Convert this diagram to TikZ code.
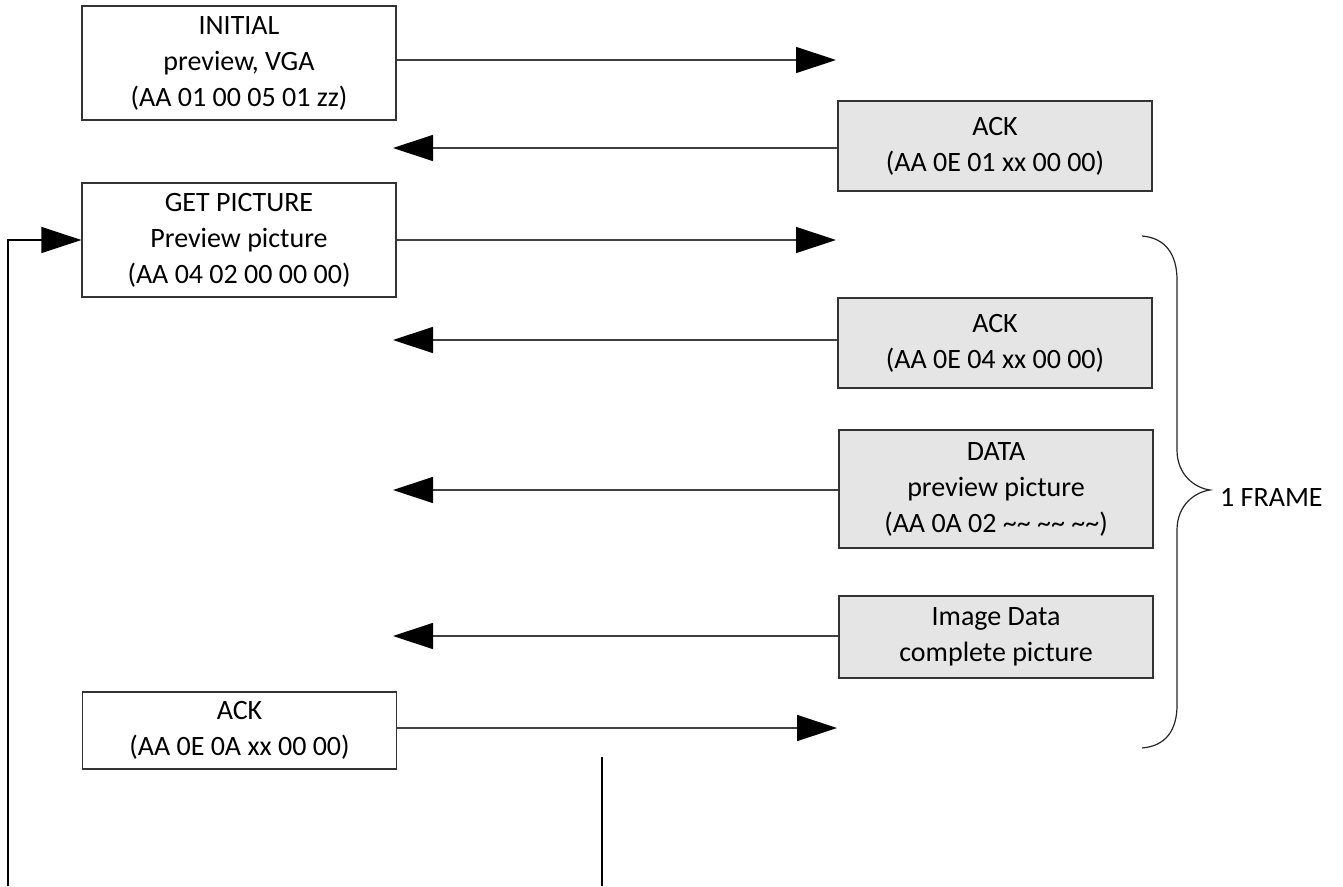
\documentclass[tikz,border=0pt]{standalone}
\usepackage{fontspec}
\setmainfont{Carlito}
\usetikzlibrary{arrows.meta}
\newcommand{\tld}{\char"7E\char"7E}
\begin{document}
\begin{tikzpicture}[x=1pt,y=-1pt,
  box/.style={draw=black!80, line width=1.2pt, fill=white, minimum width=314pt, inner sep=0pt, align=center, font=\fontsize{28}{36}\selectfont},
  rbox/.style={box, fill=black!10},
  msg/.style={draw=black!75, line width=1.3pt, -{Triangle[length=40pt,width=26pt,color=black]}},
  plainline/.style={draw=black, line width=1.4pt},
  bracestyle/.style={draw=black!85, line width=1.2pt},
  lbl/.style={font=\fontsize{28}{36}\selectfont, inner sep=0pt, anchor=west}]
\useasboundingbox (0,0) rectangle (1343,886);
% left column
\node[box, minimum height=114pt] (init) at (239,63) {INITIAL\\preview, VGA\\(AA 01 00 05 01 zz)};
\node[box, minimum height=114pt] (getpic) at (239,240) {GET PICTURE\\Preview picture\\(AA 04 02 00 00 00)};
\node[box, minimum height=77pt] (ackb) at (239.5,730.5) {ACK\\(AA 0E 0A xx 00 00)};
% right column
\node[rbox, minimum height=90pt] (ack1) at (995,146) {ACK\\(AA 0E 01 xx 00 00)};
\node[rbox, minimum height=90pt] (ack2) at (995,343) {ACK\\(AA 0E 04 xx 00 00)};
\node[rbox, minimum height=118pt] (data) at (996,489) {DATA\\preview picture\\(AA 0A 02 \tld\ \tld\ \tld)};
\node[rbox, minimum height=82pt] (img) at (996,637) {Image Data\\complete picture};
% free ends
\coordinate (t1) at (836,60);
\coordinate (t2) at (393,148);
\coordinate (t3) at (836,240);
\coordinate (t4) at (393,340);
\coordinate (t5) at (393,490);
\coordinate (t6) at (393,636);
\coordinate (t7) at (837,728);
\coordinate (loopstart) at (8,886);
\coordinate (vtop) at (602,757);
\coordinate (vbot) at (602,886);
% messages
\draw[msg] (init.east |- t1) -- (t1);
\draw[msg] (ack1.west |- t2) -- (t2);
\draw[msg] (getpic.east |- t3) -- (t3);
\draw[msg] (ack2.west |- t4) -- (t4);
\draw[msg] (data.west |- t5) -- (t5);
\draw[msg] (img.west |- t6) -- (t6);
\draw[msg] (ackb.east |- t7) -- (t7);
% loop back
\draw[plainline, -{Triangle[length=40pt,width=26pt,color=black]}] (loopstart) |- (getpic.west);
\draw[plainline] (vtop) -- (vbot);
% brace
\draw[bracestyle] (1142,236) .. controls (1166,238) and (1177,255) .. (1177,280) -- (1177,450) .. controls (1177,475) and (1195,488) .. (1210,490) .. controls (1195,492) and (1177,505) .. (1177,530) -- (1177,705) .. controls (1177,730) and (1166,746) .. (1142,748);
\node[lbl] (frame) at (1220,497) {1 FRAME};
\end{tikzpicture}
\end{document}
